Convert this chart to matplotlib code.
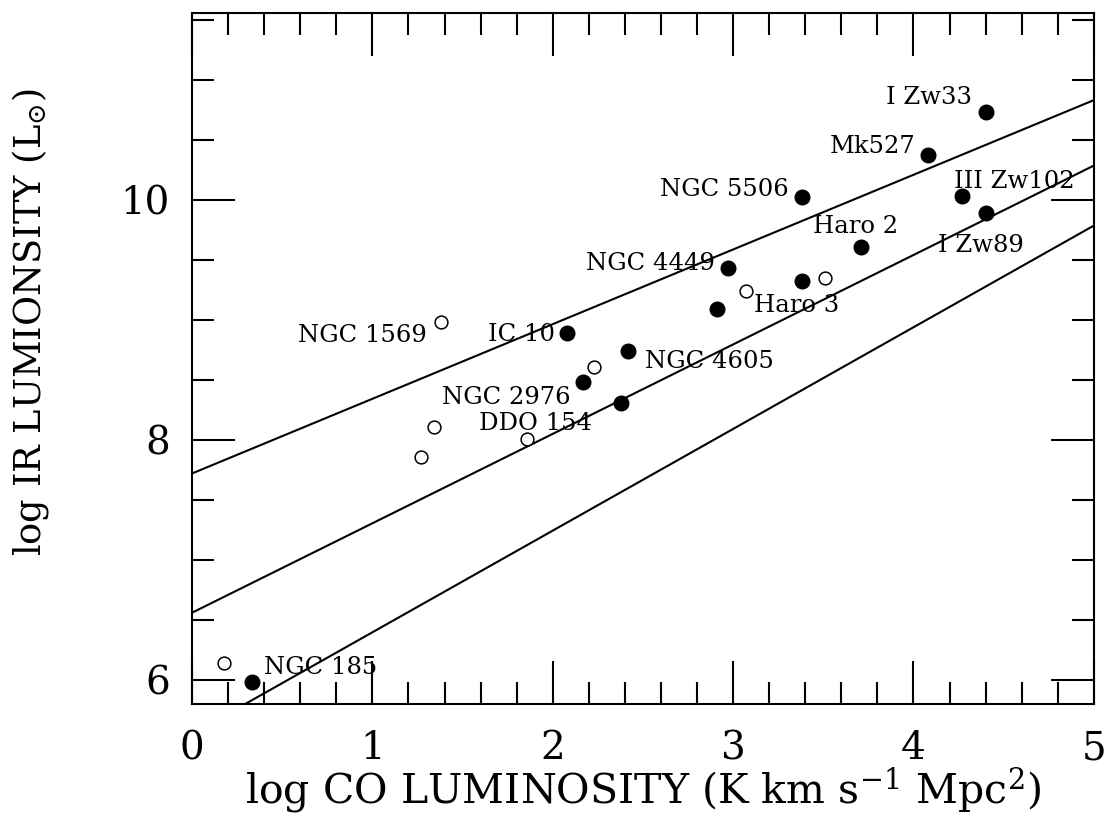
import numpy as np
from matplotlib import pyplot as plt

# galaxies with CO detections (filled) and upper limits / uncertain (open)
filled_x = [4.40, 4.08, 3.38, 4.27, 4.40, 3.71, 2.97, 3.38, 2.91, 2.42, 2.38, 2.08, 2.17, 0.33]
filled_y = [10.73, 10.375, 10.02, 10.03, 9.89, 9.61, 9.43, 9.32, 9.09, 8.74, 8.31, 8.89, 8.48, 5.98]
open_x = [3.07, 3.51, 1.38, 2.23, 1.34, 1.27, 1.86, 0.18]
open_y = [9.24, 9.35, 8.98, 8.61, 8.11, 7.86, 8.01, 6.14]

# labels: name, x, y of the point it belongs to
names = ['I Zw33', 'Mk527', 'NGC 5506', 'III Zw102', 'I Zw89', 'Haro 2',
         'NGC 4449', 'Haro 3', 'NGC 4605', 'NGC 1569', 'IC 10', 'NGC 2976',
         'DDO 154', 'NGC 185']
name_x = [4.40, 4.08, 3.38, 4.27, 4.40, 3.71, 2.97, 3.07, 2.42, 1.38, 2.08, 2.17, 1.86, 0.33]
name_y = [10.73, 10.375, 10.02, 10.03, 9.89, 9.61, 9.43, 9.24, 8.74, 8.98, 8.89, 8.48, 8.01, 5.98]
# offsets in points, and horizontal alignment of the label
name_dx = [-10, -9, -9, -6, -34, -35, -9, 6, 12, -10, -9, -9, -35, 9]
name_dy = [6, 1, 1, 6, -28, 10, -1, -15, -12, -14, -6, -16, 6, 6]
name_ha = ['right', 'right', 'right', 'left', 'left', 'left', 'right', 'left',
           'left', 'right', 'right', 'right', 'left', 'left']

# reference lines: intercept at x=0 and slope
line_b = [7.72, 6.56, 5.55]
line_m = [0.622, 0.745, 0.847]

plt.rcParams['font.family'] = 'DejaVu Serif'
plt.rcParams['mathtext.fontset'] = 'dejavuserif'

fig = plt.figure(figsize=(11.06, 8.18), dpi=100)
ax = fig.add_axes([0.1736, 0.1394, 0.8154, 0.8453])

xs = np.linspace(0, 5, 50)
for b, m in zip(line_b, line_m):
    ax.plot(xs, b + m * xs, color='black', lw=1.5)

ax.plot(filled_x, filled_y, 'o', color='black', ms=10.5)
ax.plot(open_x, open_y, 'o', mfc='white', mec='black', mew=1.1, ms=9.2)

for name, x, y, dx, dy, ha in zip(names, name_x, name_y, name_dx, name_dy, name_ha):
    ax.annotate(name, xy=(x, y), xytext=(dx, dy), textcoords='offset points',
                ha=ha, va='baseline', fontsize=17.5)

ax.set_xlim(0, 5)
ax.set_ylim(5.8, 11.56)
ax.set_xticks([0, 1, 2, 3, 4, 5])
ax.set_xticks(np.arange(0, 5.01, 0.2), minor=True)
ax.set_yticks([6, 8, 10])
ax.set_yticks(np.arange(6, 11.6, 0.5), minor=True)
ax.tick_params(which='both', direction='in', top=True, right=True, width=1.5)
ax.tick_params(which='major', length=31, labelsize=28)
ax.tick_params(axis='x', which='major', pad=19)
ax.tick_params(axis='y', which='major', pad=16)
ax.tick_params(which='minor', length=16)
for s in ax.spines.values():
    s.set_linewidth(1.5)

ax.set_xlabel(r'log CO LUMINOSITY (K km s$^{-1}$ Mpc$^2$)', fontsize=29.5, labelpad=-1)
ax.set_ylabel(r'log IR LUMIONSITY (L$_{\odot}$)', fontsize=26.5)
ax.yaxis.set_label_coords(-0.156, 0.552)

plt.savefig('out.png', dpi=100)
